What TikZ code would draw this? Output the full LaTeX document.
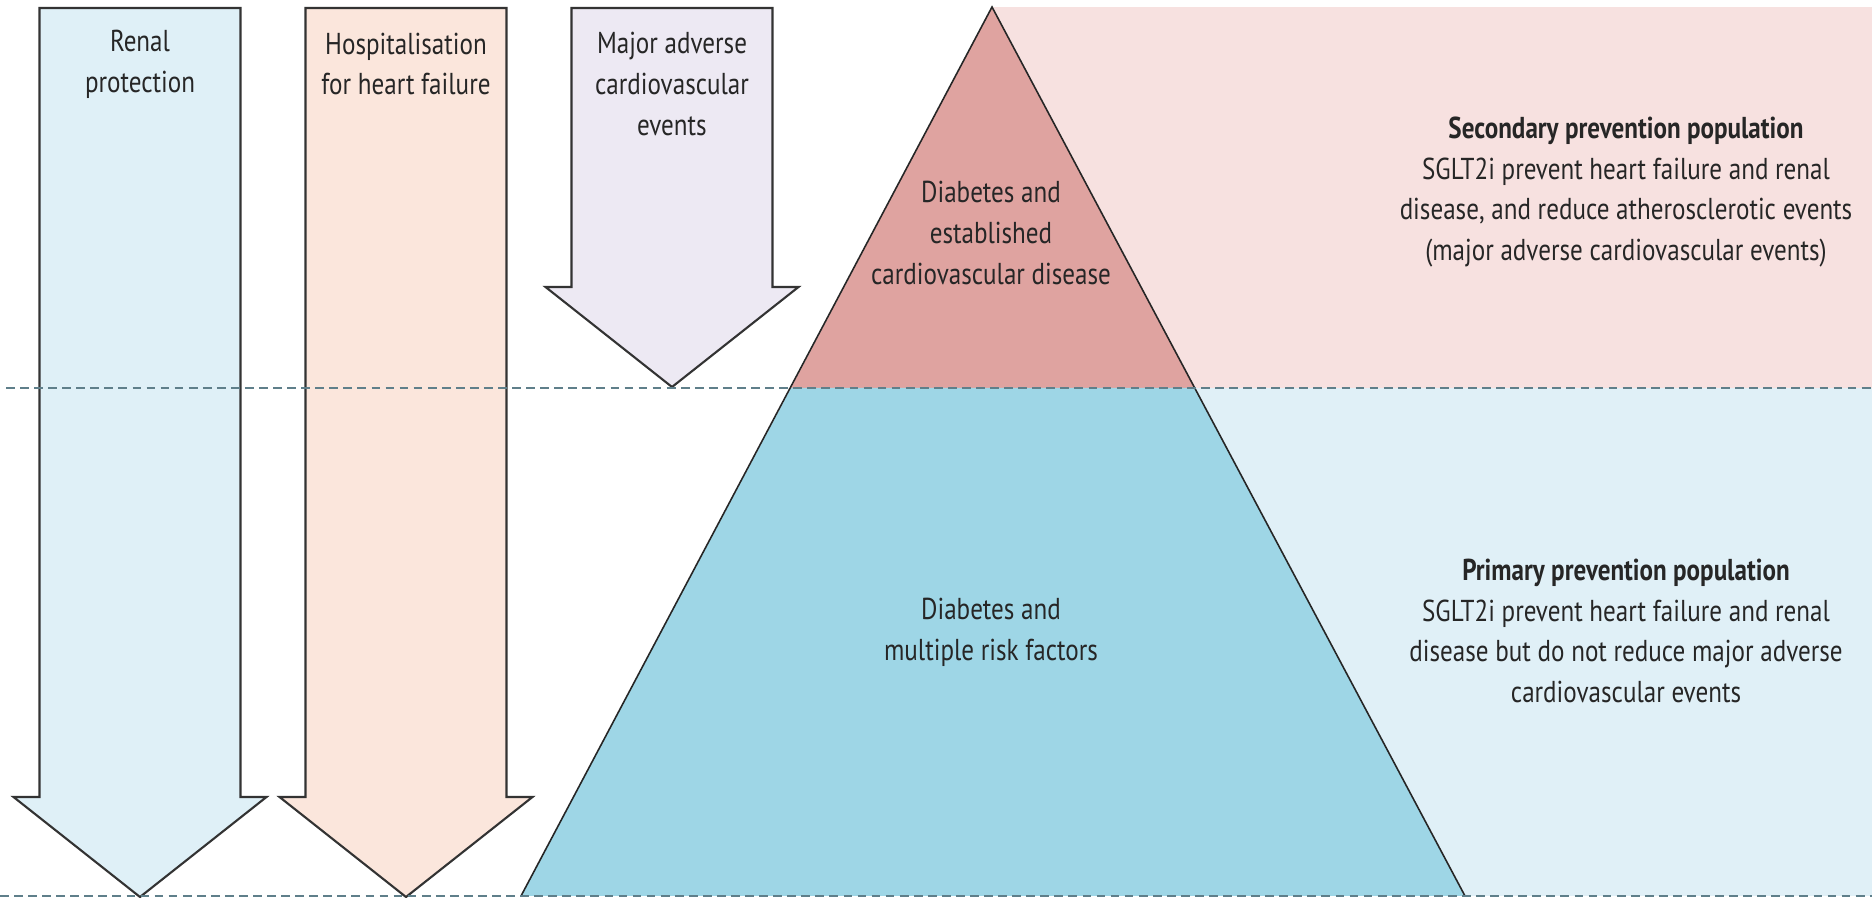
\documentclass[tikz,border=0pt]{standalone}
\usepackage{fontspec}
\setmainfont{PT Sans}[FakeStretch=0.83]
\definecolor{renalfill}{HTML}{DFF0F7}
\definecolor{hospfill}{HTML}{FBE6DC}
\definecolor{macefill}{HTML}{EDE9F3}
\definecolor{secbg}{HTML}{F7E1E0}
\definecolor{primbg}{HTML}{E0F0F7}
\definecolor{topfill}{HTML}{DFA3A0}
\definecolor{basefill}{HTML}{9ED6E6}
\definecolor{dashcol}{HTML}{5F7F8A}
\definecolor{edgecol}{HTML}{333333}
\begin{document}
\begin{tikzpicture}
  [x=0.1mm,y=-0.1mm,
   arrowbox/.style={draw=edgecol,line width=0.6pt,line join=miter},
   level/.style={dashed,dash pattern=on 2.5pt off 1.5pt,draw=dashcol,line width=0.45pt},
   every node/.style={align=center,text=black!85,font=\fontsize{8.6}{11.6}\selectfont}]
  \useasboundingbox (0,0) rectangle (1872,898);
  % background bands
  \fill[secbg] (992,7) rectangle (1872,388);
  \fill[primbg] (992,388) rectangle (1872,896);
  % pyramid
  \coordinate (apex) at (992,7);
  \coordinate (midL) at (791,388);
  \coordinate (midR) at (1195,388);
  \coordinate (baseL) at (521,896);
  \coordinate (baseR) at (1465,896);
  \fill[topfill] (apex) -- (midR) -- (midL) -- cycle;
  \fill[basefill] (midL) -- (midR) -- (baseR) -- (baseL) -- cycle;
  \draw[black!85,line width=0.45pt] (baseL) -- (apex) -- (baseR);
  % down arrows
  \foreach \cx/\yh/\col in {140/797/renalfill,406/797/hospfill,672/287/macefill}
    \draw[arrowbox,fill=\col] (\cx-100.5,8) -- (\cx+100.5,8) -- (\cx+100.5,\yh)
      -- (\cx+126.5,\yh) -- (\cx,\yh+100) -- (\cx-126.5,\yh) -- (\cx-100.5,\yh) -- cycle;
  % levels
  \draw[level] (6,388) -- (1872,388);
  \draw[level] (0,896) -- (1872,896);
  % labels
  \node (renal) at (140,64) {Renal\\protection};
  \node (hosp) at (406,64) {Hospitalisation\\for heart failure};
  \node (mace) at (672,84) {Major adverse\\cardiovascular\\events};
  \node (cvd) at (991,233) {Diabetes and\\established\\cardiovascular disease};
  \node (risk) at (991,632) {Diabetes and\\multiple risk factors};
  \node (second) at (1626,192) {\textbf{Secondary prevention population}\\SGLT2i prevent heart failure and renal\\disease, and reduce atherosclerotic events\\(major adverse cardiovascular events)};
  \node (primary) at (1626,631) {\textbf{Primary prevention population}\\SGLT2i prevent heart failure and renal\\disease but do not reduce major adverse\\cardiovascular events};
\end{tikzpicture}
\end{document}
